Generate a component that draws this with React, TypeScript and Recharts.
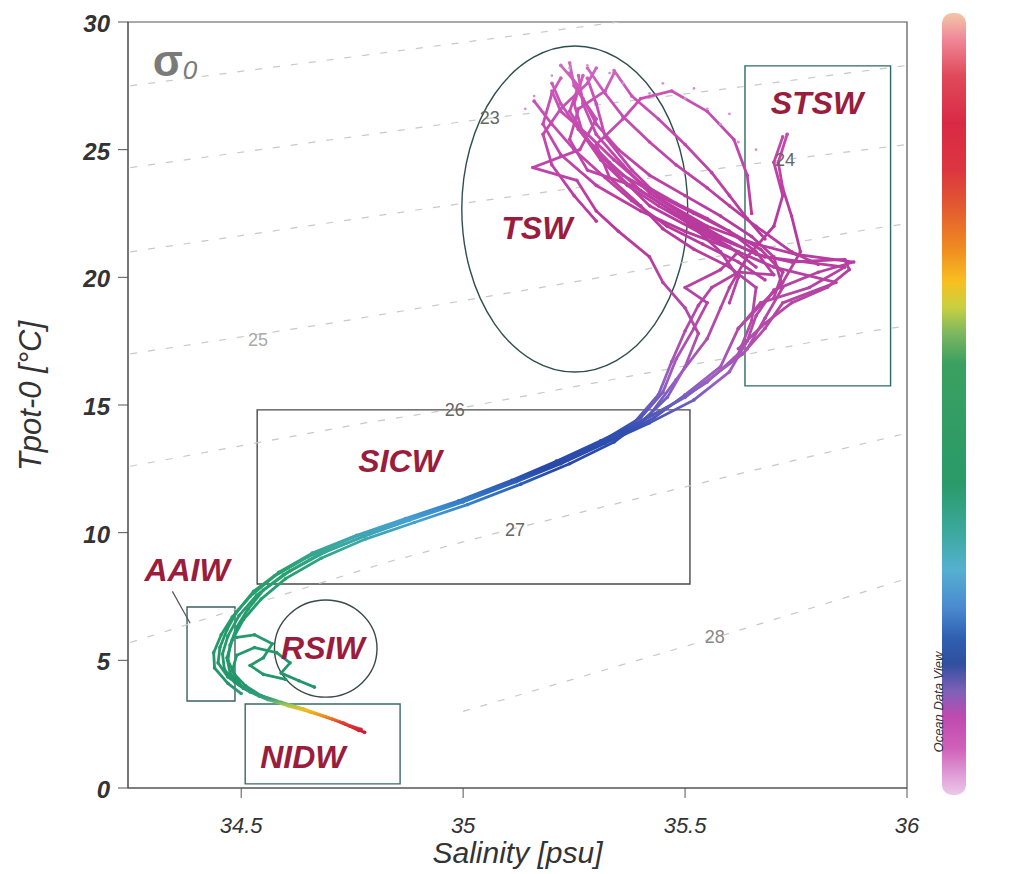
import React from 'react';
import { ScatterChart, Scatter, XAxis, YAxis, ReferenceArea } from 'recharts';

// T-S diagram (salinity vs potential temperature), Ocean Data View style

const FONT = '"Liberation Sans", Arial, sans-serif';
const W = 1034;
const H = 874;

const xDomain = [34.245, 36];
const xTicks = [34.5, 35, 35.5, 36];
const yTicks = [0, 5, 10, 15, 20, 25, 30];
const depthTicks = [0, 500, 1000, 1500, 2000, 2500];

// profiles, [salinity, temperature]
const profileA = [
    [34.778, 2.18], [34.745, 2.42], [34.705, 2.7], [34.655, 2.98], [34.605, 3.22], [34.56, 3.46],
    [34.52, 3.76], [34.485, 4.15], [34.462, 4.65], [34.458, 5.25], [34.47, 5.95], [34.495, 6.75],
    [34.535, 7.55], [34.595, 8.35], [34.675, 9.15], [34.775, 9.85], [34.88, 10.5], [35.0, 11.2],
    [35.12, 12.0], [35.22, 12.7], [35.32, 13.5], [35.42, 14.3], [35.52, 15.2], [35.6, 16.3],
    [35.64, 17.5], [35.66, 18.5], [35.7, 19.5], [35.8, 20.2], [35.88, 20.6], [35.75, 20.9],
    [35.66, 21.3], [35.55, 22.0], [35.45, 23.0], [35.38, 24.2], [35.32, 25.5], [35.3, 26.8], [35.28, 27.8],
];
const profileB = [
    [34.77, 2.3], [34.735, 2.5], [34.695, 2.76], [34.645, 3.05], [34.595, 3.3], [34.55, 3.55],
    [34.505, 3.9], [34.47, 4.35], [34.448, 4.9], [34.452, 5.5], [34.468, 6.2], [34.49, 6.9],
    [34.528, 7.7], [34.585, 8.45], [34.66, 9.2], [34.76, 9.9], [34.87, 10.55], [34.99, 11.25],
    [35.11, 12.05], [35.21, 12.8], [35.31, 13.6], [35.41, 14.45], [35.5, 15.3], [35.63, 17.0],
    [35.68, 18.0], [35.72, 19.0], [35.84, 19.8], [35.7, 20.4], [35.62, 21.0], [35.5, 21.8],
    [35.4, 22.6], [35.3, 23.6], [35.22, 24.8], [35.18, 26.0], [35.2, 27.2], [35.22, 27.8],
];
const profileC = [
    [34.765, 2.25], [34.73, 2.55], [34.69, 2.8], [34.64, 3.1], [34.59, 3.36], [34.545, 3.62],
    [34.51, 4.0], [34.485, 4.45], [34.47, 5.0], [34.475, 5.6], [34.49, 6.3], [34.515, 7.0],
    [34.55, 7.75], [34.61, 8.5], [34.69, 9.25], [34.79, 9.95], [34.895, 10.6], [35.01, 11.3],
    [35.13, 12.1], [35.235, 12.85], [35.335, 13.65], [35.43, 14.5], [35.5, 15.4], [35.58, 16.5],
    [35.62, 18.0], [35.67, 19.0], [35.78, 19.6], [35.86, 20.4], [35.68, 20.8], [35.58, 21.5],
    [35.48, 22.5], [35.38, 23.6], [35.28, 24.2], [35.24, 25.4], [35.26, 26.6], [35.32, 27.3], [35.34, 28.0],
];
const profileD = [
    [34.5, 3.7], [34.47, 4.1], [34.44, 4.7], [34.438, 5.3], [34.455, 6.0], [34.48, 6.7],
    [34.52, 7.5], [34.575, 8.3], [34.65, 9.05], [34.75, 9.8], [34.86, 10.45], [34.98, 11.15],
    [35.1, 11.95], [35.2, 12.65], [35.3, 13.45], [35.4, 14.5], [35.45, 15.5], [35.48, 16.8],
    [35.52, 18.0], [35.55, 19.0], [35.5, 19.6], [35.58, 20.3], [35.62, 21.0], [35.55, 21.6],
    [35.42, 22.8], [35.35, 24.0], [35.3, 25.0], [35.26, 25.8],
];
const profileE = [
    [34.58, 3.4], [34.53, 3.7], [34.495, 4.05], [34.475, 4.5], [34.468, 5.1], [34.48, 5.8],
    [34.505, 6.6], [34.545, 7.4], [34.6, 8.2], [34.68, 9.0], [34.78, 9.75], [34.89, 10.4],
    [35.01, 11.1], [35.13, 11.9], [35.24, 12.7], [35.34, 13.55], [35.42, 14.6], [35.48, 16.0],
    [35.55, 17.6], [35.58, 18.8], [35.6, 19.6], [35.64, 20.8], [35.7, 22.0], [35.72, 23.2],
    [35.7, 24.5], [35.72, 25.5],
];
const profileF = [
    [35.3, 13.4], [35.4, 14.3], [35.46, 15.3], [35.5, 16.5], [35.53, 17.8], [35.5, 18.8],
    [35.45, 19.8], [35.42, 20.8], [35.35, 21.8], [35.3, 22.6], [35.256, 23.8], [35.157, 24.3],
    [35.263, 25.0], [35.3, 26.2], [35.25, 27.5], [35.24, 28.4],
];
const profileG = [
    [35.36, 14.0], [35.46, 14.9], [35.55, 15.9], [35.62, 17.0], [35.65, 18.3], [35.66, 19.6],
    [35.6, 20.4], [35.52, 21.1], [35.45, 21.9], [35.4, 22.8], [35.33, 23.9], [35.3, 25.2],
    [35.36, 26.2], [35.4, 27.0], [35.47, 27.3], [35.55, 26.5], [35.61, 25.4], [35.64, 24.0], [35.65, 22.5],
];
const profileH = [
    [35.62, 17.2], [35.68, 18.2], [35.74, 19.0], [35.82, 19.6], [35.87, 20.3], [35.86, 20.7],
    [35.74, 20.6], [35.66, 20.9], [35.58, 21.6], [35.5, 22.4], [35.42, 23.3], [35.36, 24.4],
    [35.3, 25.6], [35.27, 26.8], [35.26, 27.9],
];
const profileI = [
    [35.38, 14.2], [35.44, 15.4], [35.47, 16.7], [35.5, 17.9], [35.53, 18.9], [35.56, 19.6],
    [35.62, 20.2], [35.7, 20.1], [35.66, 21.0], [35.6, 21.8], [35.55, 22.3], [35.48, 22.9],
    [35.4, 23.7], [35.34, 24.6], [35.28, 25.6], [35.22, 26.5], [35.2, 27.3],
];
const profileJ = [
    [35.3, 22.2], [35.25, 23.2], [35.2, 24.4], [35.18, 25.6], [35.22, 26.6], [35.28, 27.6], [35.3, 28.2],
];
const profileK = [
    [35.62, 18.0], [35.72, 19.8], [35.76, 21.0], [35.74, 22.4], [35.72, 23.5], [35.71, 24.5], [35.73, 25.6],
];
const profileL = [
    [35.64, 17.2], [35.68, 18.4], [35.72, 19.6], [35.7, 20.8], [35.65, 21.6], [35.58, 22.4],
    [35.5, 23.2], [35.42, 24.0], [35.35, 25.0], [35.3, 26.0], [35.27, 27.0], [35.24, 28.0],
];
const profileM = [
    [35.8, 20.5], [35.74, 21.0], [35.66, 22.0], [35.6, 22.8], [35.55, 23.5], [35.48, 24.4],
    [35.42, 25.3], [35.36, 26.3], [35.32, 27.2], [35.28, 28.2],
];
const profileN = [
    [35.7, 19.2], [35.72, 20.2], [35.67, 21.1], [35.6, 21.8], [35.52, 22.5], [35.44, 23.2],
    [35.36, 24.0], [35.3, 24.9], [35.26, 25.8], [35.22, 26.8], [35.2, 27.6],
];
const profileO = [
    [35.6, 19.0], [35.62, 20.0], [35.58, 21.0], [35.53, 21.8], [35.47, 22.6], [35.4, 23.4],
    [35.33, 24.5], [35.28, 25.4], [35.24, 26.5], [35.26, 27.5], [35.22, 28.3],
];
const profileP = [
    [35.68, 21.5], [35.64, 22.3], [35.6, 23.2], [35.56, 24.1], [35.5, 25.2], [35.44, 26.2],
    [35.38, 27.1], [35.34, 28.1],
];
const profileQ = [
    [35.68, 19.9], [35.62, 20.6], [35.54, 21.3], [35.46, 22.0], [35.38, 23.0], [35.32, 23.9],
    [35.25, 25.0], [35.2, 26.0], [35.16, 26.9],
];
const profileR = [
    [35.66, 20.4], [35.6, 21.2], [35.52, 22.0], [35.44, 22.8], [35.37, 23.6], [35.31, 24.6],
    [35.27, 25.6], [35.25, 26.8], [35.27, 27.9],
];
const rsiwA = [
    [34.54, 3.6], [34.5, 4.0], [34.48, 4.6], [34.49, 5.2], [34.53, 5.5], [34.58, 5.3],
    [34.61, 4.9], [34.59, 4.5], [34.63, 4.2], [34.665, 3.95],
];
const rsiwB = [
    [34.49, 5.9], [34.53, 6.0], [34.57, 5.65], [34.55, 5.1], [34.52, 4.8], [34.55, 4.45], [34.6, 4.25],
];
const surfaceDots = [
    [35.2, 27.9], [35.24, 28.2], [35.28, 28.3], [35.33, 28.0], [35.36, 27.6], [35.42, 27.2],
    [35.5, 27.0], [35.55, 26.6], [35.58, 26.0], [35.62, 25.3], [35.16, 27.1], [35.14, 26.6],
    [35.45, 27.6], [35.52, 27.4], [35.6, 26.4], [35.66, 25.0],
];

const profiles = [profileA, profileB, profileC, profileD, profileE, profileF, profileG,
    profileH, profileI, profileJ, profileK, profileL, profileM, profileN, profileO, profileP,
    profileQ, profileR, rsiwA, rsiwB];

// sigma-0 isopycnals, [salinity, temperature]
const iso22 = [[34.25, 27.5], [35.0, 29.2], [35.35, 30.0]];
const iso23 = [[34.25, 24.3], [35.0, 26.1], [35.6, 27.4], [36, 28.3]];
const iso24 = [[34.25, 21.0], [35.0, 22.9], [35.72, 24.6], [36, 25.2]];
const iso25 = [[34.25, 17.0], [34.7, 18.2], [35.31, 20.0], [35.92, 21.9], [36, 22.1]];
const iso26 = [[34.25, 12.6], [34.78, 14.3], [35.0, 14.9], [35.92, 17.9], [36, 18.1]];
const iso27 = [[34.25, 5.7], [34.6, 7.6], [34.83, 8.85], [35.1, 10.1], [36, 13.9]];
const iso28 = [[35.0, 3.0], [35.57, 5.9], [36, 8.2]];
const isopycnals = [iso22, iso23, iso24, iso25, iso26, iso27, iso28];

const isoLabels = [
    { s: 35.06, t: 26.24, label: '23', color: '#666' },
    { s: 35.725, t: 24.6, label: '24', color: '#666' },
    { s: 34.538, t: 17.55, label: '25', color: '#aaa' },
    { s: 34.981, t: 14.8, label: '26', color: '#666' },
    { s: 35.117, t: 10.1, label: '27', color: '#666' },
    { s: 35.567, t: 5.91, label: '28', color: '#888' },
];

// water mass regions
const boxes = [
    { name: 'STSW', s1: 35.635, s2: 35.963, t1: 15.75, t2: 28.28, stroke: '#2d6a64' },
    { name: 'SICW', s1: 34.536, s2: 35.511, t1: 7.99, t2: 14.81, stroke: '#4a4a4a' },
    { name: 'AAIW', s1: 34.378, s2: 34.486, t1: 3.41, t2: 7.09, stroke: '#3f5f5f' },
    { name: 'NIDW', s1: 34.509, s2: 34.858, t1: 0.16, t2: 3.29, stroke: '#3a6a66' },
];
const ellipses = [
    { name: 'TSW', s1: 34.997, s2: 35.506, t1: 16.29, t2: 29.06, stroke: '#2f4f4f' },
    { name: 'RSIW', s1: 34.575, s2: 34.806, t1: 3.56, t2: 7.36, stroke: '#3a4a4a' },
];
const massLabels = [
    { s: 35.797, t: 26.83, label: 'STSW' },
    { s: 35.166, t: 21.93, label: 'TSW' },
    { s: 34.858, t: 12.81, label: 'SICW' },
    { s: 34.378, t: 8.54, label: 'AAIW' },
    { s: 34.684, t: 5.48, label: 'RSIW' },
    { s: 34.639, t: 1.21, label: 'NIDW' },
];
const aaiwLeader = [[34.345, 7.7], [34.385, 6.45]];

const toPts = (arr: number[][]) => arr.map(([s, t]) => ({ s, t }));

// colour ramp along temperature (follows depth)
const tempStops = [
    [30, '#d98ad0'], [27, '#c850b4'], [22, '#b8389c'], [18, '#b44aa8'], [16, '#9a60c0'],
    [15, '#6a5cc0'], [14, '#3050b0'], [12.5, '#2848a8'], [11.5, '#3070c0'], [10.5, '#45a0d0'],
    [9.5, '#3aa8a0'], [8.5, '#28a070'], [4, '#22966a'], [3.5, '#35a080'], [3.25, '#a0c850'],
    [3.05, '#f0c020'], [2.8, '#f08a20'], [2.55, '#e04030'], [2.2, '#d01838'], [0, '#d01838'],
];
const depthStops = [
    [2500, '#f2c8a8'], [2420, '#f08a9a'], [2300, '#e04a5a'], [2150, '#d92a45'], [2000, '#dc3540'],
    [1880, '#e25a30'], [1750, '#f08a20'], [1640, '#f8c020'], [1560, '#c8d040'], [1480, '#80b860'],
    [1380, '#3aa060'], [1000, '#2a9a68'], [850, '#3aa89a'], [720, '#55b0d0'], [600, '#4a8ad0'],
    [500, '#2f5fb0'], [420, '#3050a0'], [330, '#8060b8'], [250, '#c04ab0'], [150, '#d060b8'],
    [60, '#e0a0d8'], [0, '#ecc8e8'],
];

const M = { top: 22, right: 7, bottom: 26, left: 10 };
const PLOT_TOP = 22;
const PLOT_BOTTOM = 788;

const noShape = () => <g />;
const dotShape = (p: any) => <circle cx={p.cx} cy={p.cy} r={1.8} fill="url(#tsGrad)" />;
const pinkDot = (p: any) => <circle cx={p.cx} cy={p.cy} r={1.4} fill="#d890d0" />;

const isoText = (p: any) => (
    <text x={p.cx} y={p.cy} textAnchor="middle" dominantBaseline="central" fontFamily={FONT}
        fontSize={18} fill={p.payload.color}>{p.payload.label}</text>
);
const massText = (p: any) => (
    <text x={p.cx} y={p.cy} textAnchor="middle" dominantBaseline="central" fontFamily={FONT}
        fontSize={32} fontWeight="bold" fontStyle="italic" fill="#9a1d3d">{p.payload.label}</text>
);
const sigmaText = (p: any) => (
    <text x={p.cx} y={p.cy} textAnchor="middle" dominantBaseline="central" fontFamily={FONT} fill="#7a7a7a">
        <tspan fontSize={44} fontWeight="bold">σ</tspan>
        <tspan fontSize={26} fontStyle="italic" dy={10}>0</tspan>
    </text>
);

const XTick = ({ x, y, payload }: any) => (
    <text x={x} y={y} dy={33} textAnchor="middle" fontFamily={FONT} fontSize={22}
        fontStyle="italic" fill="#333">{payload.value}</text>
);
const YTick = ({ x, y, payload }: any) => (
    <text x={x} y={y} dy={10} textAnchor="end" fontFamily={FONT} fontSize={24}
        fontStyle="italic" fontWeight="bold" fill="#333">{payload.value}</text>
);
const DepthTick = ({ x, y, payload }: any) => (
    <text x={x} y={y} dy={payload.value === 2500 ? 3 : 7} textAnchor="start" fontFamily={FONT}
        fontSize={20} fontStyle="italic" fontWeight="bold" fill="#333">{payload.value}</text>
);

export default function App() {
    return (
        <div style={{ position: 'absolute', left: 0, top: 0, width: W, height: H, background: '#fff' }}>
            <ScatterChart width={W} height={H} margin={M}>
                <defs>
                    <linearGradient id="tsGrad" gradientUnits="userSpaceOnUse" x1="0" y1={PLOT_TOP} x2="0" y2={PLOT_BOTTOM}>
                        {tempStops.map(([t, c]) => (
                            <stop key={String(t)} offset={(30 - (t as number)) / 30} stopColor={c as string} />
                        ))}
                    </linearGradient>
                </defs>
                <XAxis
                    type="number"
                    dataKey="s"
                    domain={xDomain}
                    ticks={xTicks}
                    allowDataOverflow
                    height={60}
                    stroke="#555"
                    tickSize={10}
                    tick={<XTick />}
                    label={{
                        content: (p: any) => (
                            <text x={p.viewBox.x + p.viewBox.width / 2} y={p.viewBox.y + 75} textAnchor="middle"
                                fontFamily={FONT} fontSize={30} fontStyle="italic" fill="#333">Salinity [psu]</text>
                        ),
                    }}
                />
                <YAxis
                    type="number"
                    dataKey="t"
                    domain={[0, 30]}
                    ticks={yTicks}
                    allowDataOverflow
                    width={118}
                    stroke="#555"
                    tickSize={10}
                    tickMargin={8}
                    tick={<YTick />}
                    label={{
                        content: (p: any) => (
                            <text transform={`translate(${p.viewBox.x + 31}, ${p.viewBox.y + p.viewBox.height / 2 - 9}) rotate(-90)`}
                                textAnchor="middle" fontFamily={FONT} fontSize={31} fontStyle="italic" fill="#333">Tpot-0 [°C]</text>
                        ),
                    }}
                />
                <YAxis
                    yAxisId="depth"
                    orientation="right"
                    type="number"
                    domain={[0, 2500]}
                    ticks={depthTicks}
                    width={120}
                    axisLine={false}
                    tickLine={false}
                    tickSize={0}
                    tickMargin={67}
                    tick={<DepthTick />}
                />

                <ReferenceArea x1={xDomain[0]} x2={xDomain[1]} y1={0} y2={30} fill="none" stroke="#555"
                    strokeWidth={1.2} ifOverflow="visible" />

                {isopycnals.map((iso, i) => (
                    <Scatter key={`iso-${i}`} data={toPts(iso)} isAnimationActive={false} shape={noShape}
                        line={{ stroke: '#c8c8c8', strokeWidth: 1.2, strokeDasharray: '7 11' }} />
                ))}

                {boxes.map((b) => (
                    <ReferenceArea key={b.name} x1={b.s1} x2={b.s2} y1={b.t1} y2={b.t2} fill="none"
                        stroke={b.stroke} strokeWidth={1.4} fillOpacity={0} />
                ))}
                {ellipses.map((e) => (
                    <ReferenceArea key={e.name} x1={e.s1} x2={e.s2} y1={e.t1} y2={e.t2}
                        shape={(p: any) => (
                            <ellipse cx={p.x + p.width / 2} cy={p.y + p.height / 2} rx={p.width / 2}
                                ry={p.height / 2} fill="none" stroke={e.stroke} strokeWidth={1.4} />
                        )} />
                ))}
                <Scatter data={toPts(aaiwLeader)} isAnimationActive={false} shape={noShape}
                    line={{ stroke: '#555', strokeWidth: 1.2 }} />

                {profiles.map((p, i) => (
                    <Scatter key={`prof-${i}`} data={toPts(p)} isAnimationActive={false} shape={dotShape}
                        line={{ stroke: 'url(#tsGrad)', strokeWidth: 2.8, strokeLinejoin: 'round' }} />
                ))}
                <Scatter data={toPts(surfaceDots)} isAnimationActive={false} shape={pinkDot} />

                <Scatter data={isoLabels} isAnimationActive={false} shape={isoText} />
                <Scatter data={massLabels} isAnimationActive={false} shape={massText} />
                <Scatter data={[{ s: 34.351, t: 28.5 }]} isAnimationActive={false} shape={sigmaText} />
            </ScatterChart>

            <svg width={W} height={H} style={{ position: 'absolute', left: 0, top: 0, pointerEvents: 'none' }}>
                <defs>
                    <linearGradient id="depthGrad" x1="0" y1="0" x2="0" y2="1">
                        {depthStops.map(([d, c]) => (
                            <stop key={String(d)} offset={(2500 - (d as number)) / 2500} stopColor={c as string} />
                        ))}
                    </linearGradient>
                </defs>
                <rect x={942} y={13} width={24} height={782} rx={10} fill="url(#depthGrad)" />
                <text transform="translate(943, 702) rotate(-90)" textAnchor="middle" fontFamily={FONT}
                    fontSize={13} fontStyle="italic" fill="#333">Ocean Data View</text>
            </svg>
        </div>
    );
}
